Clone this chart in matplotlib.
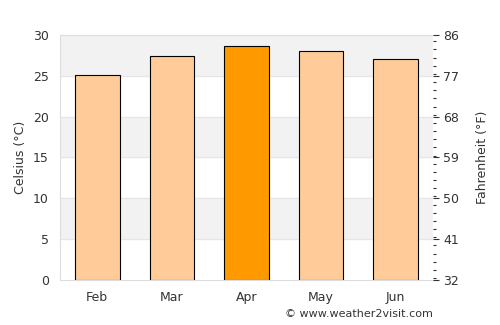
import matplotlib
matplotlib.use("Agg")
import matplotlib.pyplot as plt
from matplotlib.ticker import MultipleLocator

months = ["Feb", "Mar", "Apr", "May", "Jun"]
temps_c = [25.1, 27.4, 28.6, 28.0, 27.0]
colors = ["#ffcc99", "#ffcc99", "#ff9900", "#ffcc99", "#ffcc99"]
f_ticks = [32, 41, 50, 59, 68, 77, 86]

fig = plt.figure(figsize=(5, 3.25), dpi=100)
ax = fig.add_axes([0.12, 0.1385, 0.746, 0.754])

# alternating background bands
for lo in [5, 15, 25]:
    ax.axhspan(lo, lo + 5, color="#f2f2f2", zorder=0)
for y in [5, 10, 15, 20, 25]:
    ax.axhline(y, color="#e6e6e6", lw=0.8, zorder=0.5)

ax.bar(range(len(months)), temps_c, width=0.6, color=colors,
       edgecolor="black", linewidth=0.8, zorder=2)

ax.set_xlim(-0.5, len(months) - 0.5)
ax.set_ylim(0, 30)
ax.set_xticks(range(len(months)))
ax.set_xticklabels(months)
ax.set_yticks(range(0, 31, 5))
ax.set_ylabel("Celsius (°C)", color="#333333", fontsize=9)
ax.tick_params(axis="both", colors="#333333", labelsize=9, length=0, pad=8)
for s in ["left", "bottom", "top"]:
    ax.spines[s].set_color("#dddddd")
ax.spines["right"].set_visible(False)

ax2 = ax.twinx()
ax2.set_ylim(32, 86)
ax2.set_yticks(f_ticks)
ax2.yaxis.set_minor_locator(MultipleLocator(1.8))
ax2.tick_params(axis="y", which="major", colors="#333333", labelsize=9, length=4, width=0.8)
ax2.tick_params(axis="y", which="minor", colors="#333333", length=2.5, width=0.8)
ax2.set_ylabel("Fahrenheit (°F)", color="#333333", fontsize=9, labelpad=12)
for s in ax2.spines.values():
    s.set_visible(False)

fig.text(0.57, 0.025, "© www.weather2visit.com", fontsize=8, color="#333333")

fig.savefig("out.png", dpi=100)
